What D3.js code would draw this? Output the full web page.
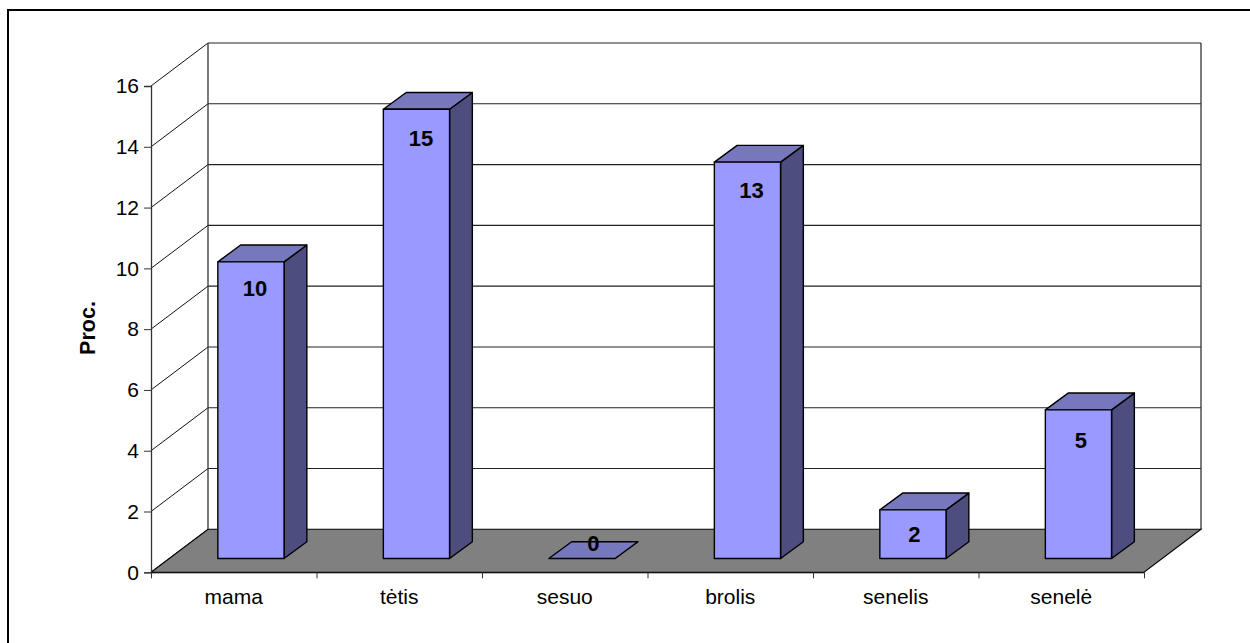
<!DOCTYPE html>
<html><head><meta charset="utf-8">
<script src="https://cdn.jsdelivr.net/npm/d3@7/dist/d3.min.js"></script>
<style>html,body{margin:0;padding:0;background:#fff}svg{display:block}text{font-family:"Liberation Sans",Arial,sans-serif;fill:#000}</style>
</head><body><div id="c"></div>
<script>
const categories = ["mama","tėtis","sesuo","brolis","senelis","senelė"];
const values = [9.76,14.78,0,13.04,1.6,4.89];
const valueLabels = ["10","15","0","13","2","5"];
const yTicks = [0,2,4,6,8,10,12,14,16];

const W=1250,H=643;
const svg=d3.select("#c").append("svg").attr("width",W).attr("height",H);
const x0=151,x1=1144,yB=572.3,yT=86;
const wallDx=57,wallDy=-43;      // chart depth
const barBaseDx=17.2,barBaseDy=-13.8; // bar position inside the depth
const barDx=22.8,barDy=-16.8;    // bar depth
const y=d3.scaleLinear().domain([0,16]).range([yB,yT]);
const xb=d3.scaleBand().domain(categories).range([x0,x1]).paddingInner(0.6).paddingOuter(0.3);
const xt=d3.scaleLinear().domain([0,6]).range([x0,x1]);
// label nudges relative to the bar's front face
const labelNudge=[[4,26],[4.5,29],[11.5,-15.5],[4,28],[1.5,24.6],[2.5,30]];

const line=(g,a,b,c,d,col,w)=>g.append("line").attr("x1",a).attr("y1",b).attr("x2",c).attr("y2",d).attr("stroke",col).attr("stroke-width",w);

svg.append("rect").attr("x",8).attr("y",10).attr("width",W+20).attr("height",H+20).attr("fill","#fff").attr("stroke","#000").attr("stroke-width",2);

const wall=svg.append("g");
yTicks.forEach(v=>{
  line(wall,x0,y(v),x0+wallDx,y(v)+wallDy,"#111",1);
  if(v>0) line(wall,x0+wallDx,y(v)+wallDy,x1+wallDx,y(v)+wallDy,"#222",1.1);
});
line(wall,x0+wallDx,y(16)+wallDy,x0+wallDx,y(0)+wallDy,"#333",1.3);
line(wall,x1+wallDx,y(16)+wallDy,x1+wallDx,y(0)+wallDy,"#333",1.3);

svg.append("polygon").attr("points",[[x0,yB],[x1,yB],[x1+wallDx,yB+wallDy],[x0+wallDx,yB+wallDy]].join(" "))
  .attr("fill","#808080").attr("stroke","#000").attr("stroke-width",1.1);

const axY=d3.axisLeft(y).tickValues(yTicks).tickSize(7).tickPadding(5);
const gy=svg.append("g").attr("transform",`translate(${x0},0)`).call(axY);
gy.selectAll("text").style("font-size","21px").style("font-family",'"Liberation Sans",Arial,sans-serif');
gy.selectAll("line,path").attr("stroke","#333");
gy.select("path").attr("stroke-width",1.3);

const axX=d3.axisBottom(xt).ticks(6).tickSize(6).tickSizeOuter(0).tickFormat("");
const gx=svg.append("g").attr("transform",`translate(0,${yB})`).call(axX);
gx.selectAll("line").attr("stroke","#333");
gx.select("path").attr("stroke","#000");

svg.append("g").selectAll("text").data(categories).join("text")
  .attr("x",(d,i)=>xt(i+.5)).attr("y",603.5).attr("text-anchor","middle").style("font-size","21px").text(d=>d);

svg.append("text").attr("transform","translate(94.5,328) rotate(-90)").attr("text-anchor","middle")
  .style("font-size","21.5px").style("font-weight","700").text("Proc.");

const bars=svg.append("g").selectAll("g").data(categories).join("g");
bars.each(function(c,i){
  const g=d3.select(this),l=xb(c)+barBaseDx,r=l+xb.bandwidth(),b=y(0)+barBaseDy,t=y(values[i])+barBaseDy;
  const face=(pts,f)=>g.append("polygon").attr("points",pts.join(" ")).attr("fill",f).attr("stroke","#000").attr("stroke-width",1.4).attr("stroke-linejoin","round");
  face([[r,b],[r+barDx,b+barDy],[r+barDx,t+barDy],[r,t]],"#4d4d80");
  face([[l,t],[r,t],[r+barDx,t+barDy],[l+barDx,t+barDy]],"#7777bd");
  if(values[i]>0) face([[l,b],[r,b],[r,t],[l,t]],"#9999ff");
  const [nx,ny]=labelNudge[i];
  g.append("text").attr("x",(l+r)/2+nx).attr("y",t+ny).attr("dy","0.35em").attr("text-anchor","middle")
   .style("font-size","22px").style("font-weight","700").text(valueLabels[i]);
});
</script></body></html>
